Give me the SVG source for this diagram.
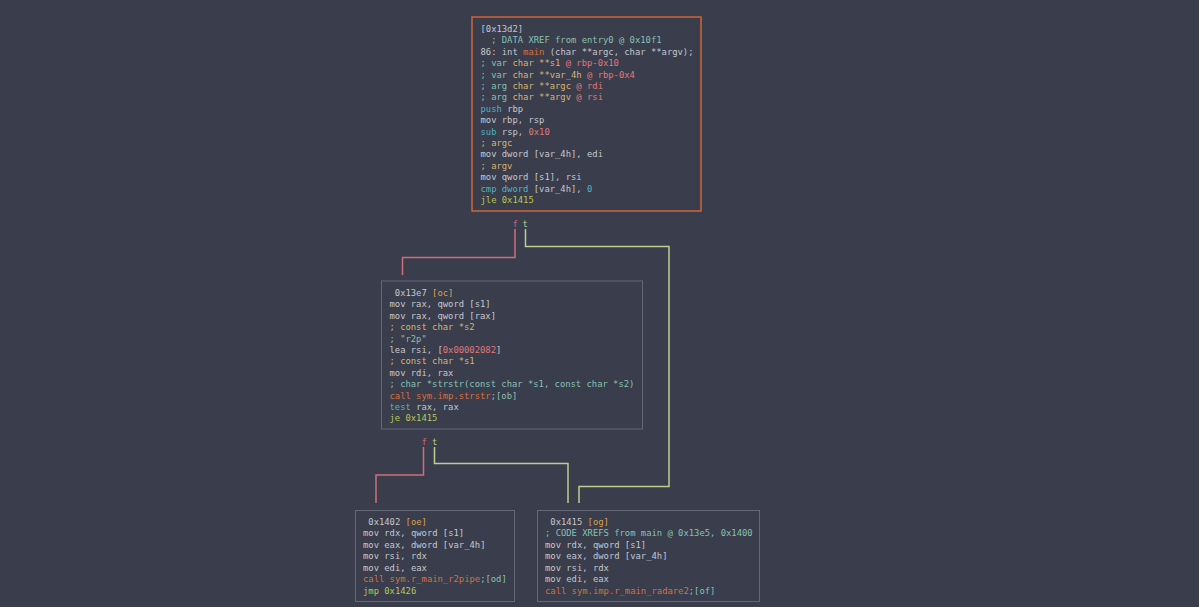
<svg xmlns="http://www.w3.org/2000/svg" width="1199" height="607" viewBox="0 0 1199 607">
<style>
text{font-family:"DejaVu Sans Mono","Liberation Mono",monospace;font-size:8.85px;fill:#c5c8d0;white-space:pre}
.c{fill:#86c2b4}.y{fill:#d8b56e}.r{fill:#e0787a}.o{fill:#d8703c}.k{fill:#4fb3c9}.g{fill:#b8c755}.b{fill:#d9a04e}
.node{fill:#393d4c;stroke:#646978;stroke-width:1}
.entry{fill:#393d4c;stroke:#d0653a;stroke-width:1.5}
.ef{fill:none;stroke:#d26d7c;stroke-width:1.5}
.et{fill:none;stroke:#b9d08e;stroke-width:1.5}
.lf{fill:#d26d7c}.lt{fill:#b9d08e}
</style>
<rect width="1199" height="607" fill="#393d4c"/>
<g id="connectors">
<path class="ef" d="M515,229 V257.5 H402.5 V275"/>
<path class="et" d="M525.5,229 V246.5 H669 V486.5 H579 V503"/>
<path class="ef" d="M423.5,447 V475 H376 V503"/>
<path class="et" d="M434.5,447 V463.5 H568 V503"/>
<text x="512.5" y="226.5" class="lf">f</text>
<text x="522.5" y="226.5" class="lt">t</text>
<text x="421.5" y="445" class="lf">f</text>
<text x="432" y="445" class="lt">t</text>
</g>
<g id="n13d2">
<rect class="entry" x="472" y="17" width="229" height="194"/>
<text x="480.5" y="32" xml:space="preserve">[0x13d2]</text>
<text x="480.5" y="43.4" xml:space="preserve"><tspan class="c">  ; DATA XREF from entry0 @ 0x10f1</tspan></text>
<text x="480.5" y="54.8" xml:space="preserve">86: int <tspan class="o">main</tspan> (char **argc, char **argv);</text>
<text x="480.5" y="66.2" xml:space="preserve"><tspan class="c">; var </tspan><tspan class="y">char **s1</tspan><tspan class="r"> @ rbp-0x10</tspan></text>
<text x="480.5" y="77.6" xml:space="preserve"><tspan class="c">; var </tspan><tspan class="y">char **var_4h</tspan><tspan class="r"> @ rbp-0x4</tspan></text>
<text x="480.5" y="89" xml:space="preserve"><tspan class="c">; arg </tspan><tspan class="y">char **argc</tspan><tspan class="r"> @ rdi</tspan></text>
<text x="480.5" y="100.4" xml:space="preserve"><tspan class="c">; arg </tspan><tspan class="y">char **argv</tspan><tspan class="r"> @ rsi</tspan></text>
<text x="480.5" y="111.8" xml:space="preserve"><tspan class="k">push</tspan> rbp</text>
<text x="480.5" y="123.2" xml:space="preserve">mov rbp, rsp</text>
<text x="480.5" y="134.6" xml:space="preserve"><tspan class="k">sub</tspan> rsp, <tspan class="r">0x10</tspan></text>
<text x="480.5" y="146" xml:space="preserve"><tspan class="y">; argc</tspan></text>
<text x="480.5" y="157.4" xml:space="preserve">mov dword [var_4h], edi</text>
<text x="480.5" y="168.8" xml:space="preserve"><tspan class="y">; argv</tspan></text>
<text x="480.5" y="180.2" xml:space="preserve">mov qword [s1], rsi</text>
<text x="480.5" y="191.6" xml:space="preserve"><tspan class="k">cmp dword</tspan> [var_4h], <tspan class="k">0</tspan></text>
<text x="480.5" y="203" xml:space="preserve"><tspan class="g">jle 0x1415</tspan></text>
</g>
<g id="n13e7">
<rect class="node" x="381.5" y="281" width="261" height="148"/>
<text x="389.5" y="296" xml:space="preserve"> 0x13e7 <tspan class="b">[oc]</tspan></text>
<text x="389.5" y="307.4" xml:space="preserve">mov rax, qword [s1]</text>
<text x="389.5" y="318.8" xml:space="preserve">mov rax, qword [rax]</text>
<text x="389.5" y="330.2" xml:space="preserve"><tspan class="y">; const char *s2</tspan></text>
<text x="389.5" y="341.6" xml:space="preserve"><tspan class="c">; "r2p"</tspan></text>
<text x="389.5" y="353" xml:space="preserve">lea rsi, [<tspan class="r">0x00002082</tspan>]</text>
<text x="389.5" y="364.4" xml:space="preserve"><tspan class="y">; const char *s1</tspan></text>
<text x="389.5" y="375.8" xml:space="preserve">mov rdi, rax</text>
<text x="389.5" y="387.2" xml:space="preserve"><tspan class="c">; char *strstr(const char *s1, const char *s2)</tspan></text>
<text x="389.5" y="398.6" xml:space="preserve"><tspan class="o">call sym.imp.strstr</tspan><tspan class="c">;[ob]</tspan></text>
<text x="389.5" y="410" xml:space="preserve"><tspan class="k">test</tspan> rax, rax</text>
<text x="389.5" y="421.4" xml:space="preserve"><tspan class="g">je 0x1415</tspan></text>
</g>
<g id="n1402">
<rect class="node" x="355.5" y="510.5" width="159" height="91"/>
<text x="363" y="524.5" xml:space="preserve"> 0x1402 <tspan class="b">[oe]</tspan></text>
<text x="363" y="536" xml:space="preserve">mov rdx, qword [s1]</text>
<text x="363" y="547.5" xml:space="preserve">mov eax, dword [var_4h]</text>
<text x="363" y="559" xml:space="preserve">mov rsi, rdx</text>
<text x="363" y="570.5" xml:space="preserve">mov edi, eax</text>
<text x="363" y="582" xml:space="preserve"><tspan class="o">call sym.r_main_r2pipe</tspan><tspan class="c">;[od]</tspan></text>
<text x="363" y="593.5" xml:space="preserve"><tspan class="g">jmp 0x1426</tspan></text>
</g>
<g id="n1415">
<rect class="node" x="537.5" y="510.5" width="222" height="91"/>
<text x="545" y="524.5" xml:space="preserve"> 0x1415 <tspan class="b">[og]</tspan></text>
<text x="545" y="536" xml:space="preserve"><tspan class="c">; CODE XREFS from main @ 0x13e5, 0x1400</tspan></text>
<text x="545" y="547.5" xml:space="preserve">mov rdx, qword [s1]</text>
<text x="545" y="559" xml:space="preserve">mov eax, dword [var_4h]</text>
<text x="545" y="570.5" xml:space="preserve">mov rsi, rdx</text>
<text x="545" y="582" xml:space="preserve">mov edi, eax</text>
<text x="545" y="593.5" xml:space="preserve"><tspan class="o">call sym.imp.r_main_radare2</tspan><tspan class="c">;[of]</tspan></text>
</g>
</svg>
